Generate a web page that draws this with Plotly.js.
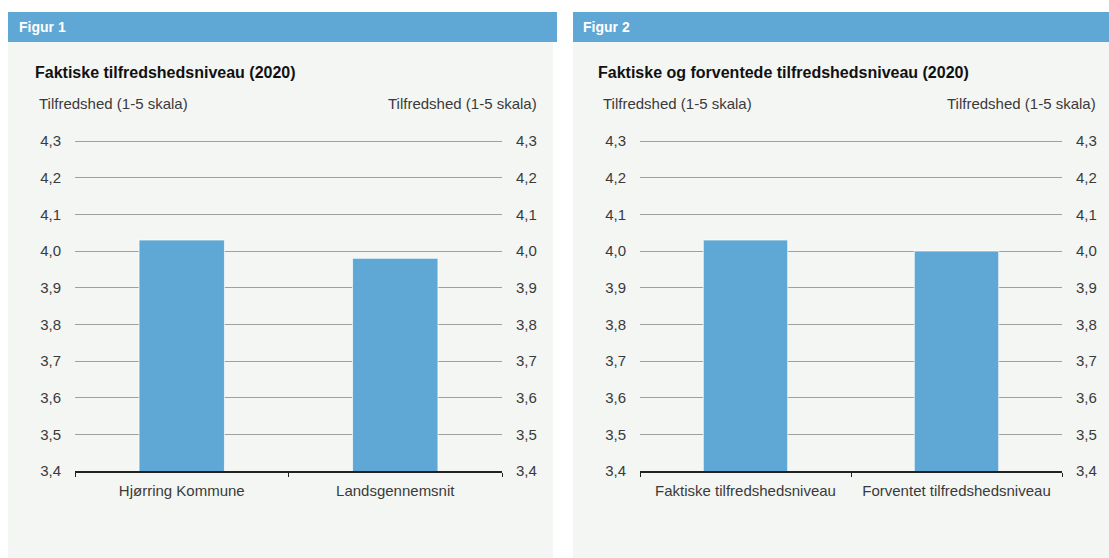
<!DOCTYPE html>
<html>
<head>
<meta charset="utf-8">
<script src="https://cdn.plot.ly/plotly-3.0.1.min.js"></script>
<style>
html,body{margin:0;padding:0;background:#ffffff;}
#chart{width:1109px;height:558px;}
</style>
</head>
<body>
<div id="chart"></div>
<script>
// ---- data ----
const categories1 = ['Hjørring Kommune', 'Landsgennemsnit'];
const values1 = [4.03, 3.98];
const categories2 = ['Faktiske tilfredshedsniveau', 'Forventet tilfredshedsniveau'];
const values2 = [4.03, 4.00];
const yTickVals = [3.4, 3.5, 3.6, 3.7, 3.8, 3.9, 4.0, 4.1, 4.2, 4.3];
const panelLabels = ['Figur 1', 'Figur 2'];
const chartTitles = ['Faktiske tilfredshedsniveau (2020)', 'Faktiske og forventede tilfredshedsniveau (2020)'];
const axisTitle = 'Tilfredshed (1-5 skala)';

// ---- layout helpers ----
const W = 1109, H = 558;
const px = v => v / W;
const py = v => 1 - v / H;
const FONT = '"Liberation Sans", Arial, Helvetica, sans-serif';
const BLUE = '#5fa7d4';
const PANEL = '#f4f6f4';
const TICKCOL = '#3a3a3a';

// axis range: a little headroom above the top tick so its gridline is drawn
const yMin = 3.4, yMax = 4.31;
const pxPerUnit = 330 / 0.9;                 // 0.1 step = 36.67 px
const yDom = [87 / H, (87 + (yMax - yMin) * pxPerUnit) / H];

const barTrace = (cats, vals, xa, ya) => ({
  type: 'bar', x: cats, y: vals, xaxis: xa, yaxis: ya,
  marker: {color: BLUE, line: {color: 'rgba(255,255,255,0.7)', width: 1}},
  hoverinfo: 'x+y', showlegend: false
});
// invisible traces to activate the right-side axes
const ghost = (cats, xa, ya) => ({
  type: 'scatter', mode: 'markers', x: cats, y: [yMin, yMin], xaxis: xa, yaxis: ya,
  marker: {opacity: 0}, hoverinfo: 'skip', showlegend: false
});

const data = [
  barTrace(categories1, values1, 'x', 'y'),
  ghost(categories1, 'x', 'y2'),
  barTrace(categories2, values2, 'x2', 'y3'),
  ghost(categories2, 'x2', 'y4')
];

const xAxisBase = {
  type: 'category', showgrid: false, showline: true, linecolor: '#222', linewidth: 1.5,
  ticks: 'outside', tickson: 'boundaries', ticklen: 4, tickcolor: '#222', tickwidth: 1,
  ticklabelstandoff: 5,
  tickfont: {family: FONT, size: 15, color: TICKCOL}, fixedrange: true, zeroline: false
};
const yAxisBase = {
  range: [yMin, yMax], tickvals: yTickVals, tickformat: '.1f', showline: false, zeroline: false,
  ticks: '', ticklabelstandoff: 13, tickfont: {family: FONT, size: 15, color: TICKCOL},
  fixedrange: true
};

const shapes = [];
const annotations = [];
const panels = [
  {x0: 8, x1: 553, hx1: 557, tx: 17, cx: 33, lx: 37, rx: 539},
  {x0: 573, x1: 1109, hx1: 1109, tx: 581, cx: 596, lx: 601, rx: 1098}
];
panels.forEach((p, i) => {
  shapes.push({type: 'rect', xref: 'paper', yref: 'paper', layer: 'below',
    x0: px(p.x0), x1: px(p.x1), y0: py(H), y1: py(12), fillcolor: PANEL, line: {width: 0}});
  shapes.push({type: 'rect', xref: 'paper', yref: 'paper', layer: 'below',
    x0: px(p.x0), x1: px(p.hx1), y0: py(42), y1: py(12), fillcolor: BLUE, line: {width: 0}});
  annotations.push({xref: 'paper', yref: 'paper', x: px(p.tx), y: py(27), xanchor: 'left', yanchor: 'middle',
    text: '<b>' + panelLabels[i] + '</b>', showarrow: false, font: {family: FONT, size: 14, color: '#ffffff'}});
  annotations.push({xref: 'paper', yref: 'paper', x: px(p.cx), y: py(72), xanchor: 'left', yanchor: 'middle',
    text: '<b>' + chartTitles[i] + '</b>', showarrow: false, font: {family: FONT, size: 16, color: '#111111'}});
  annotations.push({xref: 'paper', yref: 'paper', x: px(p.lx), y: py(103), xanchor: 'left', yanchor: 'middle',
    text: axisTitle, showarrow: false, font: {family: FONT, size: 15, color: TICKCOL}});
  annotations.push({xref: 'paper', yref: 'paper', x: px(p.rx), y: py(103), xanchor: 'right', yanchor: 'middle',
    text: axisTitle, showarrow: false, font: {family: FONT, size: 15, color: TICKCOL}});
});

const layout = {
  width: W, height: H,
  margin: {l: 0, r: 0, t: 0, b: 0, pad: 0},
  paper_bgcolor: '#ffffff', plot_bgcolor: 'rgba(0,0,0,0)',
  separators: ', ',
  font: {family: FONT, size: 15, color: TICKCOL},
  bargap: 0.6,
  showlegend: false,
  xaxis: Object.assign({}, xAxisBase, {domain: [px(75), px(502)], anchor: 'y'}),
  xaxis2: Object.assign({}, xAxisBase, {domain: [px(640), px(1062)], anchor: 'y3'}),
  yaxis: Object.assign({}, yAxisBase, {domain: yDom, anchor: 'x', side: 'left',
    showgrid: true, gridcolor: '#a0a0a0', gridwidth: 1}),
  yaxis2: Object.assign({}, yAxisBase, {overlaying: 'y', anchor: 'x', side: 'right', showgrid: false}),
  yaxis3: Object.assign({}, yAxisBase, {domain: yDom, anchor: 'x2', side: 'left',
    showgrid: true, gridcolor: '#a0a0a0', gridwidth: 1}),
  yaxis4: Object.assign({}, yAxisBase, {overlaying: 'y3', anchor: 'x2', side: 'right', showgrid: false}),
  shapes: shapes,
  annotations: annotations
};

Plotly.newPlot('chart', data, layout, {displayModeBar: false, staticPlot: true});
</script>
</body>
</html>
